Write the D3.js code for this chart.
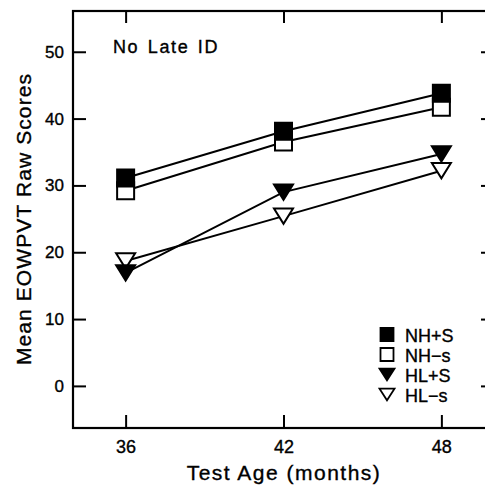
<!DOCTYPE html>
<html>
<head>
<meta charset="utf-8">
<script src="https://cdn.jsdelivr.net/npm/d3@7"></script>
<style>
  body { margin: 0; background: #fff; }
  svg { display: block; font-family: "Liberation Sans", Arial, sans-serif; }
  text { stroke: #000; stroke-width: 0.35px; }
</style>
</head>
<body>
<div id="chart"></div>
<script>
// Data
const ages = [36, 42, 48];
const groups = ["NH+S", "NH-s", "HL+S", "HL-s"];
const nhPlusS = [31.1, 38.1, 43.8];
const nhMinusS = [29.2, 36.5, 41.7];
const hlPlusS = [16.9, 29.0, 34.7];
const hlMinusS = [18.7, 25.4, 32.2];
const yTicks = [0, 10, 20, 30, 40, 50];
const legendLabels = ["NH+S", "NH\u2212s", "HL+S", "HL\u2212s"];

const series = [
    {name: groups[0], values: nhPlusS, shape: "square", fill: "#000"},
    {name: groups[1], values: nhMinusS, shape: "square", fill: "#fff"},
    {name: groups[2], values: hlPlusS, shape: "triangle", fill: "#000"},
    {name: groups[3], values: hlMinusS, shape: "triangle", fill: "#fff"}
];

const W = 485, H = 485;
const margin = {top: 11, right: -9, bottom: 57, left: 73};
const width = W - margin.left - margin.right;
const height = H - margin.top - margin.bottom;

const svg = d3.select("#chart")
    .append("svg")
    .attr("width", W)
    .attr("height", H);

const g = svg.append("g")
    .attr("transform", "translate(" + margin.left + "," + margin.top + ")");

// Scales
const x = d3.scaleLinear().domain([34, 50]).range([0, width]);
const y = d3.scaleLinear().domain([-6.3, 56.1]).range([height, 0]);

// Axes with inward ticks
g.append("g")
    .attr("class", "y-axis")
    .call(d3.axisLeft(y).tickValues(yTicks).tickSize(-13).tickPadding(9))
    .call(a => a.select(".domain").remove())
    .call(a => a.selectAll("text").attr("font-size", 17).attr("font-family", null).attr("fill", "#000"));

g.append("g")
    .attr("transform", "translate(" + width + ",0)")
    .call(d3.axisRight(y).tickValues(yTicks).tickSize(-13).tickFormat(""))
    .call(a => a.select(".domain").remove());

g.append("g")
    .attr("class", "x-axis")
    .attr("transform", "translate(0," + height + ")")
    .call(d3.axisBottom(x).tickValues(ages).tickSize(-13).tickPadding(12))
    .call(a => a.select(".domain").remove())
    .call(a => a.selectAll("text").attr("font-size", 18).attr("font-family", null).attr("fill", "#000"));

g.append("g")
    .call(d3.axisTop(x).tickValues(ages).tickSize(-12).tickFormat(""))
    .call(a => a.select(".domain").remove());

g.selectAll(".tick line").attr("stroke", "#000").attr("stroke-width", 2);

// Frame
g.append("rect")
    .attr("x", 0).attr("y", 0)
    .attr("width", width).attr("height", height)
    .attr("fill", "none")
    .attr("stroke", "#000")
    .attr("stroke-width", 2.2);

// Axis labels
svg.append("text")
    .attr("text-anchor", "middle")
    .attr("x", 284)
    .attr("y", 480)
    .attr("font-size", 21)
    .attr("letter-spacing", 1.5)
    .text("Test Age (months)");

svg.append("text")
    .attr("text-anchor", "middle")
    .attr("transform", "translate(31,219) rotate(-90)")
    .attr("font-size", 21)
    .attr("letter-spacing", 1.1)
    .text("Mean EOWPVT Raw Scores");

svg.append("text")
    .attr("x", 113)
    .attr("y", 53)
    .attr("font-size", 18)
    .attr("letter-spacing", 1.6)
    .attr("word-spacing", 2)
    .text("No Late ID");

// Lines
const line = d3.line()
    .x((d, i) => x(ages[i]))
    .y(d => y(d));

g.selectAll(".line")
    .data(series)
    .enter()
    .append("path")
    .attr("class", "line")
    .attr("d", d => line(d.values))
    .attr("fill", "none")
    .attr("stroke", "#000")
    .attr("stroke-width", 2);

// Marker shapes
function markerPath(shape, cx, cy, s) {
    if (shape === "square") {
        const h = s / 2;
        return "M" + (cx - h) + "," + (cy - h) + "H" + (cx + h) + "V" + (cy + h) + "H" + (cx - h) + "Z";
    }
    const hw = s / 2 + 1, th = s * 0.9;
    return "M" + (cx - hw) + "," + (cy - th / 2) + "H" + (cx + hw) + "L" + cx + "," + (cy + th / 2) + "Z";
}

// open markers first so the filled ones sit on top
[series[1], series[0], series[3], series[2]].forEach(sr => {
    g.selectAll(".pt-" + sr.name.replace(/\W/g, ""))
        .data(sr.values)
        .enter()
        .append("path")
        .attr("d", (d, i) => markerPath(sr.shape, x(ages[i]), y(d), 17))
        .attr("fill", sr.fill)
        .attr("stroke", "#000")
        .attr("stroke-width", 2)
        .attr("stroke-linejoin", "miter");
});

// Legend
const legend = svg.append("g").attr("transform", "translate(387,334.5)");
const rows = legend.selectAll(".row")
    .data(series)
    .enter()
    .append("g")
    .attr("transform", (d, i) => "translate(0," + i * 20 + ")");

rows.append("path")
    .attr("d", d => markerPath(d.shape, 0, 0, 13))
    .attr("fill", d => d.fill)
    .attr("stroke", "#000")
    .attr("stroke-width", 1.8);

rows.append("text")
    .attr("x", 18)
    .attr("y", 7)
    .attr("font-size", 18)
    .text((d, i) => legendLabels[i]);
</script>
</body>
</html>
